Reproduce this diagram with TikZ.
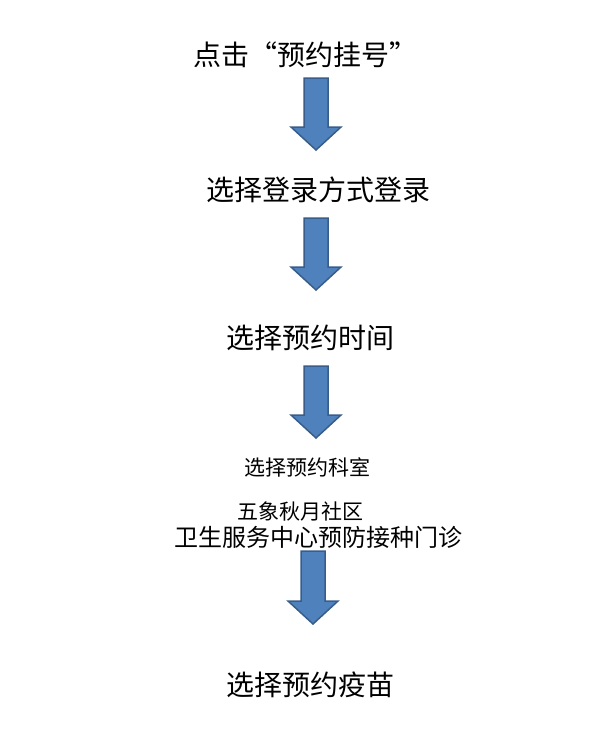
\documentclass[tikz,border=0pt]{standalone}
\usepackage{fontspec}
\newfontfamily\cjk{Noto Sans CJK SC}[BoldFont={* Bold}]
\begin{document}
\begin{tikzpicture}[x=1pt,y=-1pt,
 big/.style={font=\cjk\fontsize{28}{32}\selectfont,inner sep=0},
 small/.style={font=\cjk\fontsize{#1}{26}\selectfont,inner sep=0},
 arr/.style={fill={rgb,255:red,79;green,129;blue,189},draw={rgb,255:red,56;green,93;blue,138},line width=1.5pt,line join=miter}]
\useasboundingbox[fill=white] (0,0) rectangle (606,750);
\newcommand{\dnarrow}[3]{% x center, top y, tip y
 \draw[arr] (#1-12,#2) -- (#1+12,#2) -- (#1+12,#3-23) -- (#1+25,#3-23) -- (#1,#3) -- (#1-25,#3-23) -- (#1-12,#3-23) -- cycle;}
\node[big] (t1) at (305,55) {点击“预约挂号”};
\dnarrow{316}{78}{150}
\node[big] (t2) at (318,190) {选择登录方式登录};
\dnarrow{316}{218}{290}
\node[big] (t3) at (310,338) {选择预约时间};
\dnarrow{316}{366}{438}
\node[small=21] (t4) at (307,467) {选择预约科室};
\node[small=21] (t5) at (300,511) {五象秋月社区};
\node[small=24] (t6) at (318,537) {卫生服务中心预防接种门诊};
\dnarrow{313}{551}{624}
\node[big] (t7) at (310,685) {选择预约疫苗};
\end{tikzpicture}
\end{document}
